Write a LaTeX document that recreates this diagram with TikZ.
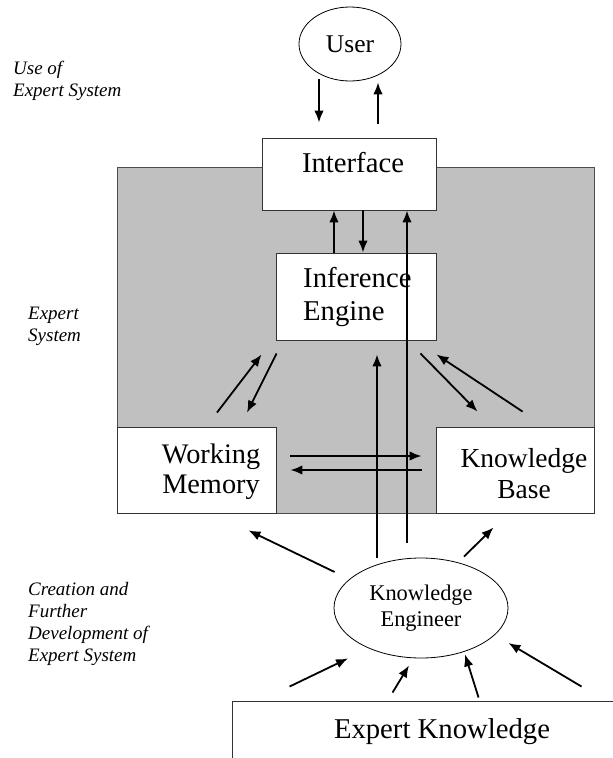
\documentclass[tikz,border=0pt]{standalone}
\usepackage{fontspec}
\setmainfont{Liberation Serif}
\usetikzlibrary{shapes.geometric,calc,arrows.meta}
\definecolor{sysgray}{RGB}{192,192,192}
\newcommand\boxfont{\fontsize{28.7}{32}\selectfont}
\newcommand\notefont{\fontsize{19}{22}\selectfont\itshape}
\begin{document}
\begin{tikzpicture}[x=1pt,y=-1pt,
		box/.style={draw=black!80,line width=.9pt,fill=white,inner sep=0pt},
		oval/.style={ellipse,draw,line width=.8pt,fill=white,inner sep=0pt},
		arr/.style={line width=1.8pt,-{Latex[length=12pt,width=9.5pt]}},
		note/.style={anchor=north west,inner sep=0pt,align=left,font=\notefont}]
	\useasboundingbox (0,0) rectangle (613,758);
	\clip (0,0) rectangle (613,758);
	
	% expert system area
	\fill[sysgray,draw=black!70,line width=.9pt] (117,167) rectangle (594,513);
	
	\node[oval,minimum width=102pt,minimum height=74pt,font=\fontsize{25.5}{28}\selectfont] (user) at (350,44) {User};
	\node[box,minimum width=174pt,minimum height=72pt] (iface) at (349,174) {};
	\node[anchor=base,inner sep=0pt,font=\boxfont] (ifacetext) at (353,172) {Interface};
	\node[box,minimum width=160pt,minimum height=87pt] (ie) at (356,296.5) {};
	\node[anchor=north west,inner sep=0pt,align=left,font=\fontsize{28.7}{33}\selectfont] (ietext) at (303,267.5) {Inference\\Engine};
	\node[box,minimum width=159pt,minimum height=86pt] (wm) at (196.5,470) {};
	\node[anchor=north,inner sep=0pt,align=center,font=\fontsize{28.3}{30}\selectfont] (wmtext) at (211,444) {Working\\Memory};
	\node[box,minimum width=158pt,minimum height=86pt] (kb) at (515,470) {};
	\node[anchor=north,inner sep=0pt,align=center,font=\fontsize{27.5}{31}\selectfont] (kbtext) at (524,448) {Knowledge\\Base};
	\node[oval,minimum width=174pt,minimum height=100pt,align=center,font=\fontsize{22.4}{26}\selectfont] (ke) at (421,608) {Knowledge\\Engineer};
	\node[box,minimum width=418pt,minimum height=99pt] (ek) at (441,750.5) {};
	\node[anchor=base,inner sep=0pt,font=\boxfont] (ektext) at (442,738) {Expert Knowledge};
	
	% side notes
	\node[note] (usenote) at (13,61) {Use of\\Expert System};
	\node[note] (sysnote) at (28,307) {Expert\\System};
	\node[note] (devnote) at (28,582) {Creation and\\Further\\Development of\\Expert System};
	
	% user and interface
	\draw[arr] ($(user.south)+(-31,-2)$) -- ($(iface.north)+(-30,-15)$);
	\draw[arr] ($(iface.north)+(29,-14)$) -- ($(user.south)+(28,1)$);
	\draw[arr] ($(ie.north)+(-22,0)$) -- ($(iface.south)+(-15,0)$);
	\draw[arr] ($(iface.south)+(14,0)$) -- ($(ie.north)+(7,0)$);
	\draw[arr] ($(ke.north)+(-14,-15)$) -- ($(iface.south)+(58,0)$);
	\draw[arr] ($(ke.north)+(-44,0)$) -- ($(ie.south)+(21,14)$);
	
	% inside the system
	\draw[arr] ($(wm.north)+(20.5,-14)$) -- ($(ie.south west)+(-14,14)$);
	\draw[arr] ($(ie.south west)+(1,13)$) -- ($(wm.north)+(50.5,-14)$);
	\draw[arr] ($(ie.south east)+(-16,13)$) -- ($(kb.north west)+(42,-15)$);
	\draw[arr] ($(kb.north west)+(87,-15)$) -- ($(ie.south east)+(0,14)$);
	\draw[arr] ($(wm.east)+(14,-14)$) -- ($(kb.west)+(-14,-14)$);
	\draw[arr] ($(kb.west)+(-14,0)$) -- ($(wm.east)+(14,0)$);
	
	% knowledge engineer
	\draw[arr] ($(ke.west)+(1,-36)$) -- ($(wm.south east)+(-28,17)$);
	\draw[arr] ($(ke.north)+(43,-1)$) -- ($(kb.south west)+(58,14)$);
	\draw[arr] ($(ek.north west)+(58,-14)$) -- ($(ke.south)+(-73,0)$);
	\draw[arr] ($(ek.north west)+(161,-8)$) -- ($(ke.south)+(-12,7)$);
	\draw[arr] ($(ek.north west)+(247,-3)$) -- ($(ke.south)+(44,-4)$);
	\draw[arr] ($(ek.north west)+(350,-14)$) -- ($(ke.east)+(0,35)$);
\end{tikzpicture}
\end{document}
